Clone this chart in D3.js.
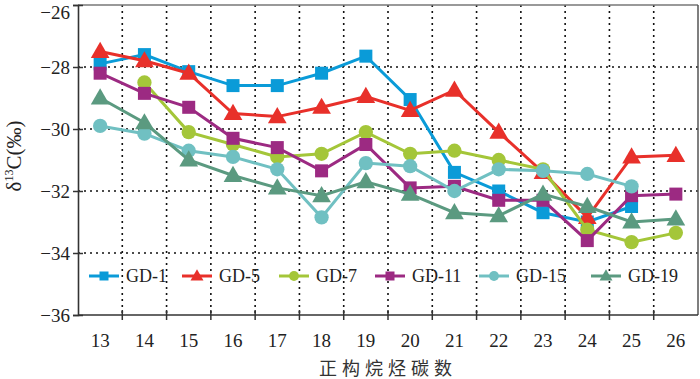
<!DOCTYPE html>
<html>
<head>
<meta charset="utf-8">
<script src="https://cdn.jsdelivr.net/npm/d3@7/dist/d3.min.js"></script>
<style>
  body { margin: 0; background: #fff; }
  svg { display: block; }
</style>
</head>
<body>
<div id="chart"></div>
<script>
// carbon numbers on the x axis
var carbons = [13, 14, 15, 16, 17, 18, 19, 20, 21, 22, 23, 24, 25, 26];
var yTicks = [-26, -28, -30, -32, -34, -36];

// one array per well, null where no value was measured
var gd1  = [-27.9, -27.6, -28.15, -28.6, -28.6, -28.2, -27.65, -29.05, -31.4, -32.0, -32.7, -33.0, -32.5, null];
var gd5  = [-27.5, -27.8, -28.2, -29.5, -29.6, -29.3, -28.95, -29.4, -28.75, -30.1, -31.4, -32.85, -30.9, -30.85];
var gd7  = [null, -28.5, -30.1, -30.5, -30.9, -30.8, -30.1, -30.8, -30.7, -31.0, -31.3, -33.25, -33.65, -33.35];
var gd11 = [-28.2, -28.85, -29.3, -30.3, -30.6, -31.35, -30.5, -31.9, -31.85, -32.3, -32.3, -33.6, -32.15, -32.1];
var gd15 = [-29.9, -30.15, -30.7, -30.9, -31.3, -32.85, -31.1, -31.2, -32.0, -31.3, -31.35, -31.45, -31.85, null];
var gd19 = [-29.0, -29.8, -31.0, -31.5, -31.9, -32.15, -31.7, -32.1, -32.7, -32.8, -32.1, -32.5, -33.0, -32.9];

var series = [
  {name: "GD-1",  values: gd1,  color: "#0a9bd8", shape: "square"},
  {name: "GD-5",  values: gd5,  color: "#e8302a", shape: "triangle"},
  {name: "GD-7",  values: gd7,  color: "#a4c639", shape: "circle"},
  {name: "GD-11", values: gd11, color: "#9c2a82", shape: "square"},
  {name: "GD-15", values: gd15, color: "#70c0c2", shape: "circle"},
  {name: "GD-19", values: gd19, color: "#5b9a80", shape: "triangle"}
];

var W = 700, H = 379;
var margin = {top: 5, right: 2, bottom: 64, left: 78};
var width = W - margin.left - margin.right,
    height = H - margin.top - margin.bottom;

var svg = d3.select("#chart").append("svg")
  .attr("width", W).attr("height", H);
var g = svg.append("g")
  .attr("transform", "translate(" + margin.left + "," + margin.top + ")");

var x = d3.scaleLinear().domain([12.5, 26.5]).range([0, width]);
var y = d3.scaleLinear().domain([-36, -26]).range([height, 0]);

var serif = "'Liberation Serif', 'Times New Roman', serif";

// dotted grid: vertical lines between carbon numbers, horizontal at inner y ticks
var xGrid = d3.range(13.5, 26, 1);
g.selectAll(".vgrid").data(xGrid).enter().append("line")
  .attr("x1", d => x(d)).attr("x2", d => x(d))
  .attr("y1", 0).attr("y2", height)
  .attr("stroke", "#111").attr("stroke-width", 1.6)
  .attr("stroke-dasharray", "2,4");
g.selectAll(".hgrid").data(yTicks.slice(1, -1)).enter().append("line")
  .attr("x1", 0).attr("x2", width)
  .attr("y1", d => y(d)).attr("y2", d => y(d))
  .attr("stroke", "#111").attr("stroke-width", 1.6)
  .attr("stroke-dasharray", "2,4");

// frame: top and right in grey
g.append("line").attr("x1", 0).attr("x2", width).attr("y1", 0).attr("y2", 0)
  .attr("stroke", "#777").attr("stroke-width", 1.5);
g.append("line").attr("x1", width).attr("x2", width).attr("y1", 0).attr("y2", height)
  .attr("stroke", "#555").attr("stroke-width", 1.5);

// x axis: ticks on the half steps, labels on the integers
var xAxis = g.append("g").attr("transform", "translate(0," + height + ")");
xAxis.append("line").attr("x1", 0).attr("x2", width)
  .attr("stroke", "#333").attr("stroke-width", 1.6);
xAxis.selectAll(".tk").data(xGrid).enter().append("line")
  .attr("x1", d => x(d)).attr("x2", d => x(d))
  .attr("y1", -5).attr("y2", 5)
  .attr("stroke", "#333").attr("stroke-width", 1.5);
xAxis.selectAll(".lb").data(carbons).enter().append("text")
  .attr("x", d => x(d)).attr("y", 32)
  .attr("text-anchor", "middle")
  .style("font-family", serif).style("font-size", "19px").attr("fill", "#222")
  .text(d => d);

// y axis
var yAxis = d3.axisLeft(y).tickValues(yTicks).tickSize(5)
  .tickFormat(d => "\u2212" + Math.abs(d));
var ya = g.append("g").call(yAxis);
ya.select(".domain").attr("stroke", "#333").attr("stroke-width", 1.6);
ya.selectAll(".tick line").attr("stroke", "#333").attr("stroke-width", 1.5)
  .attr("x2", 5).attr("x1", -5);
ya.selectAll(".tick text").attr("x", -8)
  .attr("dy", d => d === -26 ? "0.7em" : "0.32em")
  .style("font-family", serif).style("font-size", "19px").attr("fill", "#222");

// axis titles
svg.append("text")
  .attr("x", margin.left + width / 2).attr("y", 375)
  .attr("text-anchor", "middle")
  .style("font-family", "'Noto Sans CJK SC', sans-serif")
  .style("font-size", "18px").style("letter-spacing", "5px")
  .attr("fill", "#333")
  .text("正构烷烃碳数");

var yt = svg.append("text")
  .attr("transform", "translate(21,156) rotate(-90)")
  .attr("text-anchor", "middle")
  .style("font-family", serif).style("font-size", "21px").attr("fill", "#222");
yt.append("tspan").text("δ");
yt.append("tspan").attr("dy", -8).style("font-size", "12px").text("13");
yt.append("tspan").attr("dy", 8).text("C(‰)");

// marker drawing
function marker(sel, shape, color, size) {
  if (shape === "circle") {
    sel.append("circle").attr("r", size * 0.55).attr("fill", color);
  } else if (shape === "square") {
    sel.append("rect").attr("x", -size / 2).attr("y", -size / 2)
      .attr("width", size).attr("height", size).attr("fill", color);
  } else {
    var s = size * 1.2;
    sel.append("path")
      .attr("d", "M0," + (-s * 0.62) + "L" + (s * 0.6) + "," + (s * 0.42) + "L" + (-s * 0.6) + "," + (s * 0.42) + "Z")
      .attr("fill", color);
  }
}

var line = d3.line()
  .defined(d => d.v !== null)
  .x(d => x(d.c)).y(d => y(d.v));

series.forEach(function (s) {
  var pts = carbons.map((c, i) => ({c: c, v: s.values[i]}));
  g.append("path").datum(pts)
    .attr("d", line)
    .attr("fill", "none").attr("stroke", s.color).attr("stroke-width", 3);
  g.selectAll(null).data(pts.filter(p => p.v !== null)).enter().append("g")
    .attr("transform", p => "translate(" + x(p.c) + "," + y(p.v) + ")")
    .each(function () { marker(d3.select(this), s.shape, s.color, 13); });
});

// legend along the bottom of the plot
var legendX = [0, 93, 190, 286, 390, 502];
var lg = svg.append("g").attr("transform", "translate(89,276)");
series.forEach(function (s, i) {
  var item = lg.append("g").attr("transform", "translate(" + legendX[i] + ",0)");
  item.append("line").attr("x1", 0).attr("x2", 30)
    .attr("stroke", s.color).attr("stroke-width", 3);
  var m = item.append("g").attr("transform", "translate(15,0)");
  marker(m, s.shape, s.color, 9);
  item.append("text").attr("x", 37).attr("y", 6)
    .style("font-family", serif).style("font-size", "18px").attr("fill", "#222")
    .text(s.name);
});
</script>
</body>
</html>
